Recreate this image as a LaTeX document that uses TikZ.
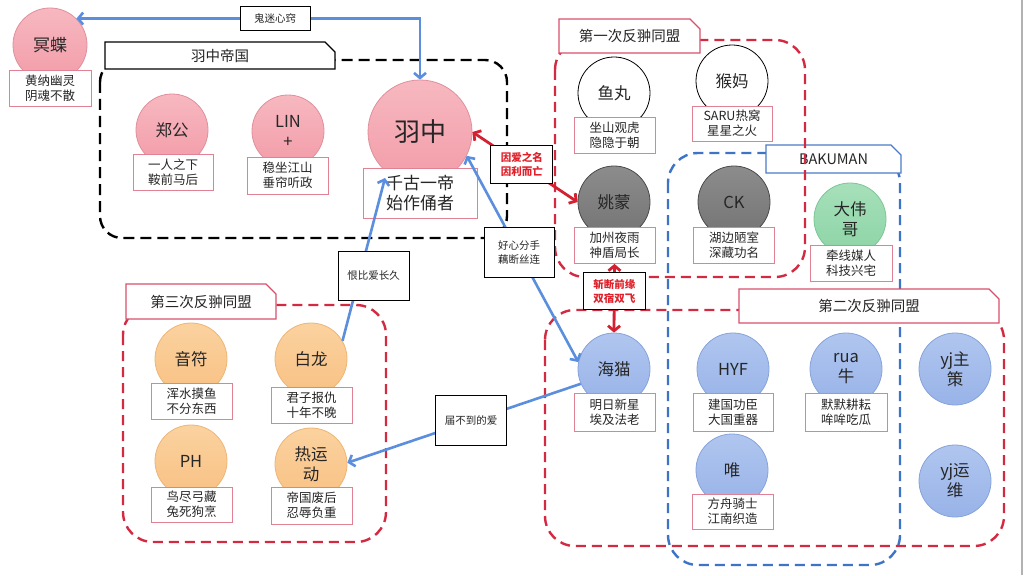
\documentclass[tikz,border=0pt]{standalone}
\usepackage{fontspec}
\setmainfont{Noto Sans CJK SC}
\usetikzlibrary{arrows.meta,shapes.misc}
\definecolor{pinkt}{HTML}{F7B8C0}
\definecolor{pinkf}{HTML}{F29CA8}
\definecolor{pinkd}{HTML}{E0909C}
\definecolor{grayt}{HTML}{8C8C8C}
\definecolor{grayf}{HTML}{747474}
\definecolor{grayd}{HTML}{4A4A4A}
\definecolor{greent}{HTML}{A6E0BA}
\definecolor{greenf}{HTML}{8DD4A6}
\definecolor{greend}{HTML}{7CC795}
\definecolor{oranget}{HTML}{FBD29F}
\definecolor{orangef}{HTML}{F8C184}
\definecolor{oranged}{HTML}{EDB677}
\definecolor{bluet}{HTML}{B0C6EF}
\definecolor{bluef}{HTML}{98B3E8}
\definecolor{blued}{HTML}{86A3DC}
\definecolor{labd}{HTML}{E08294}
\definecolor{dred}{HTML}{D32A42}
\definecolor{dblue}{HTML}{3D74C6}
\definecolor{ablue}{HTML}{5B8FDE}
\definecolor{ared}{HTML}{D42030}
\definecolor{tred}{HTML}{E0202A}
\definecolor{ttl}{HTML}{D8506A}
\definecolor{ttlb}{HTML}{4A7CC9}
\begin{document}
\begin{tikzpicture}[x=1pt,y=-1pt,
  bb/.tip={Straight Barb[length=5pt,width=12pt]},
  circ/.style={circle, minimum size=72pt, inner sep=0pt, align=center, line width=0.8pt, font=\fontsize{16.5}{20}\selectfont, text=black!85},
  pinkc/.style={circ, draw=pinkd, top color=pinkt, bottom color=pinkf},
  grayc/.style={circ, draw=grayd, top color=grayt, bottom color=grayf},
  whitec/.style={circ, draw=black, fill=white},
  greenc/.style={circ, draw=greend, top color=greent, bottom color=greenf},
  orangec/.style={circ, draw=oranged, top color=oranget, bottom color=orangef},
  bluec/.style={circ, draw=blued, top color=bluet, bottom color=bluef},
  lab/.style={draw=labd, fill=white, line width=0.9pt, align=center, inner sep=0pt, minimum width=81pt, minimum height=36pt, font=\fontsize{12.5}{15}\selectfont, text=black!85},
  titlebox/.style={chamfered rectangle, chamfered rectangle corners=north east, chamfered rectangle xsep=5pt, chamfered rectangle ysep=5pt, fill=white, line width=1.2pt, inner sep=0pt, font=\fontsize{14.5}{17}\selectfont, text=black!85},
  blackdash/.style={draw=black, line width=2.4pt, dash pattern=on 11pt off 6pt},
  reddash/.style={draw=dred, line width=2.4pt, dash pattern=on 10pt off 6pt},
  bluedash/.style={draw=dblue, line width=2.4pt, dash pattern=on 10pt off 6pt},
  barrow/.style={draw=ablue, line width=2.6pt},
  rarrow/.style={draw=ared, line width=2.8pt},
  conlab/.style={draw=black, fill=white, line width=1pt, align=center, inner sep=0pt, font=\fontsize{10.5}{14}\selectfont, text=black!85},
  redlab/.style={conlab, text=tred, font=\fontsize{10.5}{14}\selectfont\bfseries}
]
\useasboundingbox (0,0) rectangle (1024,575);
\fill[white] (0,0) rectangle (1024,575);
\draw[black!30, line width=1.2pt] (1022,0) -- (1022,575);

% containers
\draw[bluedash, rounded corners=30pt] (668,153) rectangle (900,565);
\node[titlebox, draw=ttlb, minimum width=135pt, minimum height=28pt] (tbaku) at (833.5,159) {BAKUMAN};
\draw[reddash, rounded corners=30pt] (555,40) rectangle (805,277);
\node[titlebox, draw=ttl, minimum width=141pt, minimum height=34pt] (tfirst) at (629.5,36) {第一次反翀同盟};
\draw[reddash, rounded corners=30pt] (545,310) rectangle (1004,546);
\node[titlebox, draw=ttl, minimum width=260pt, minimum height=34pt] (tsecond) at (869,306) {第二次反翀同盟};
\draw[reddash, rounded corners=30pt] (123,305) rectangle (386,542);
\node[titlebox, draw=ttl, minimum width=150pt, minimum height=35pt] (tthird) at (201,301.5) {第三次反翀同盟};
\draw[blackdash, rounded corners=22pt] (100,60) rectangle (507,238);
\node[titlebox, draw=black, minimum width=230pt, minimum height=27pt] (tempire) at (220,55.5) {羽中帝国};

% circles
\node[pinkc, minimum size=74pt, font=\fontsize{17}{20}\selectfont] (mingdie) at (50,45) {冥蝶};
\node[pinkc] (zhenggong) at (172,130) {郑公};
\node[pinkc] (lin) at (288,131) {LIN\\+};
\node[pinkc, minimum size=104pt, font=\fontsize{26}{30}\selectfont] (yuzhong) at (420,132) {羽中};
\node[whitec] (yuwan) at (614,93) {鱼丸};
\node[whitec] (houma) at (732,81) {猴妈};
\node[grayc] (yaomeng) at (614,202) {姚蒙};
\node[grayc] (ck) at (734,202) {CK};
\node[greenc] (daweige) at (850,219) {大伟\\哥};
\node[orangec] (yinfu) at (191,359) {音符};
\node[orangec] (bailong) at (311,359) {白龙};
\node[orangec] (ph) at (191,461) {PH};
\node[orangec] (reyundong) at (311,464) {热运\\动};
\node[bluec] (haimao) at (614,369) {海猫};
\node[bluec] (hyf) at (733,369) {HYF};
\node[bluec] (rua) at (846,369) {rua\\牛};
\node[bluec] (yjzc) at (955,369) {yj主\\策};
\node[bluec] (wei) at (732,470) {唯};
\node[bluec] (yjyw) at (955,481) {yj运\\维};

% labels
\node[lab, minimum width=82pt] (mingdielab) at (50,88) {黄纳幽灵\\阴魂不散};
\node[lab, minimum width=80pt] (zhenggonglab) at (173,172) {一人之下\\鞍前马后};
\node[lab, minimum height=37pt] (linlab) at (287.5,175.5) {稳坐江山\\垂帘听政};
\node[lab, minimum width=114pt, minimum height=50pt, font=\fontsize{17}{20}\selectfont] (yuzhonglab) at (420,193) {千古一帝\\始作俑者};
\node[lab] (yuwanlab) at (614.5,135) {坐山观虎\\隐隐于朝};
\node[lab, minimum width=80pt, minimum height=35pt] (houmalab) at (732,123.5) {SARU热窝\\星星之火};
\node[lab] (yaomenglab) at (614.5,245.5) {加州夜雨\\神盾局长};
\node[lab] (cklab) at (734,245.5) {湖边陋室\\深藏功名};
\node[lab, minimum width=82pt] (daweigelab) at (851,263) {牵线媒人\\科技兴宅};
\node[lab] (yinfulab) at (191.5,401) {浑水摸鱼\\不分东西};
\node[lab] (bailonglab) at (311.5,405) {君子报仇\\十年不晚};
\node[lab, minimum height=35pt] (phlab) at (191.5,504.5) {鸟尽弓藏\\兔死狗烹};
\node[lab, minimum height=37pt] (reyundonglab) at (311.5,505.5) {帝国废后\\忍辱负重};
\node[lab, minimum height=38pt] (haimaolab) at (614.5,412) {明日新星\\埃及法老};
\node[lab, minimum width=80pt, minimum height=38pt] (hyflab) at (733,412) {建国功臣\\大国重器};
\node[lab, minimum width=82pt, minimum height=38pt] (rualab) at (846,412) {默默耕耘\\哞哞吃瓜};
\node[lab, minimum height=35pt] (weilab) at (732.5,511.5) {方舟骑士\\江南织造};

% connectors
\coordinate (hentip) at (385,178);
\draw[barrow, bb-bb] (yuzhong.north) |- node[conlab, pos=0.711, minimum width=70pt, minimum height=24pt] (l1) {鬼迷心窍} (mingdie.45);
\draw[rarrow, bb-bb] (yuzhong.east) -- node[redlab, pos=0.47, minimum width=62pt, minimum height=38pt] (l2) {因爱之名\\因利而亡} (yaomeng.west);
\draw[barrow, bb-bb] (yuzhong.-27) -- node[conlab, pos=0.47, minimum width=70pt, minimum height=50pt] (l3) {好心分手\\藕断丝连} (haimao.169);
\draw[barrow, -bb] (bailong.30) -- node[conlab, pos=0.4, xshift=14pt, minimum width=71pt, minimum height=49pt] (l4) {恨比爱长久} (hentip);
\draw[barrow, -bb] (haimao.204) -- node[conlab, pos=0.47, minimum width=71pt, minimum height=50pt] (l5) {届不到的爱} (reyundong.2);
\draw[rarrow, bb-bb] (yaomenglab.south) -- node[redlab, pos=0.4, minimum width=62pt, minimum height=37pt] (l6) {斩断前缘\\双宿双飞} (haimao.north);
\end{tikzpicture}
\end{document}
